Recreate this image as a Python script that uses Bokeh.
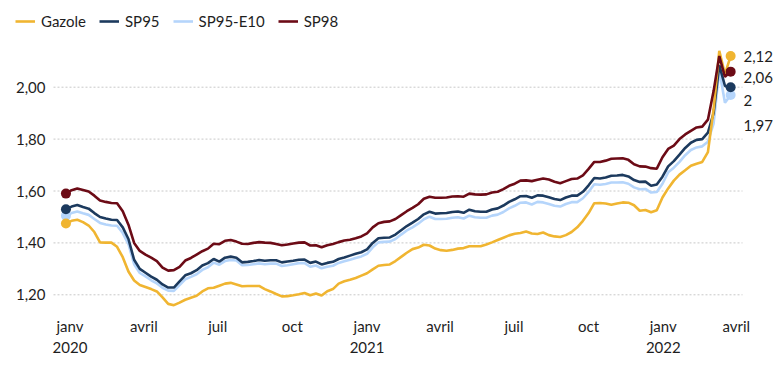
import pandas as pd
from datetime import datetime, timedelta
from bokeh.plotting import figure
from bokeh.models import (Range1d, FixedTicker, Legend, LegendItem, ColumnDataSource)
from bokeh.core.properties import value
from bokeh.embed import file_html
from bokeh.resources import INLINE

# ---------------- data (weekly averages, EUR/litre) ----------------
dates = pd.date_range("2019-12-27", periods=118, freq="7D")

gazole = [1.475, 1.485, 1.489, 1.480, 1.467, 1.442, 1.402, 1.401, 1.401, 1.385,
          1.345, 1.290, 1.255, 1.238, 1.230, 1.222, 1.213, 1.190, 1.165, 1.160,
          1.170, 1.181, 1.189, 1.196, 1.213, 1.225, 1.227, 1.235, 1.243, 1.246,
          1.240, 1.233, 1.234, 1.234, 1.234, 1.222, 1.213, 1.203, 1.194, 1.195,
          1.198, 1.202, 1.207, 1.198, 1.205, 1.197, 1.214, 1.222, 1.243, 1.252,
          1.258, 1.265, 1.274, 1.283, 1.298, 1.312, 1.315, 1.317, 1.330, 1.346,
          1.362, 1.376, 1.382, 1.393, 1.390, 1.378, 1.372, 1.370, 1.373, 1.378,
          1.380, 1.387, 1.387, 1.387, 1.394, 1.402, 1.411, 1.420, 1.429, 1.435,
          1.438, 1.444, 1.436, 1.434, 1.440, 1.430, 1.425, 1.423, 1.430, 1.442,
          1.460, 1.485, 1.515, 1.553, 1.554, 1.552, 1.547, 1.552, 1.556, 1.555,
          1.545, 1.524, 1.527, 1.518, 1.526, 1.575, 1.610, 1.640, 1.663, 1.680,
          1.697, 1.705, 1.712, 1.750, 1.915, 2.140, 2.050, 2.120]

sp95 = [1.530, 1.540, 1.546, 1.538, 1.532, 1.515, 1.500, 1.494, 1.489, 1.488,
        1.460, 1.415, 1.335, 1.300, 1.285, 1.270, 1.258, 1.240, 1.228, 1.228,
        1.252, 1.275, 1.283, 1.295, 1.313, 1.322, 1.338, 1.328, 1.343, 1.347,
        1.343, 1.325, 1.327, 1.330, 1.334, 1.331, 1.333, 1.333, 1.325, 1.328,
        1.331, 1.335, 1.336, 1.323, 1.328, 1.317, 1.323, 1.327, 1.338, 1.344,
        1.351, 1.358, 1.364, 1.375, 1.400, 1.418, 1.420, 1.421, 1.432, 1.449,
        1.465, 1.478, 1.492, 1.510, 1.520, 1.513, 1.514, 1.515, 1.519, 1.521,
        1.516, 1.528, 1.522, 1.520, 1.520, 1.529, 1.533, 1.544, 1.558, 1.568,
        1.580, 1.581, 1.574, 1.583, 1.582, 1.576, 1.569, 1.565, 1.575, 1.582,
        1.582, 1.597, 1.622, 1.650, 1.648, 1.652, 1.659, 1.660, 1.662, 1.656,
        1.642, 1.635, 1.636, 1.620, 1.625, 1.655, 1.695, 1.715, 1.740, 1.766,
        1.786, 1.797, 1.800, 1.825, 1.900, 2.085, 2.005, 2.000]

sp95_e10 = [1.505, 1.515, 1.521, 1.514, 1.508, 1.492, 1.477, 1.471, 1.467, 1.466,
            1.438, 1.395, 1.318, 1.284, 1.271, 1.256, 1.244, 1.227, 1.216, 1.215,
            1.237, 1.260, 1.269, 1.279, 1.296, 1.306, 1.324, 1.316, 1.330, 1.334,
            1.332, 1.314, 1.315, 1.318, 1.321, 1.318, 1.320, 1.320, 1.311, 1.314,
            1.318, 1.322, 1.322, 1.308, 1.313, 1.302, 1.308, 1.312, 1.323, 1.329,
            1.335, 1.342, 1.348, 1.358, 1.383, 1.402, 1.404, 1.405, 1.415, 1.432,
            1.448, 1.460, 1.474, 1.491, 1.501, 1.492, 1.492, 1.493, 1.497, 1.499,
            1.494, 1.505, 1.499, 1.497, 1.497, 1.505, 1.509, 1.519, 1.533, 1.543,
            1.555, 1.556, 1.548, 1.558, 1.556, 1.550, 1.543, 1.540, 1.550, 1.557,
            1.557, 1.572, 1.597, 1.626, 1.624, 1.627, 1.633, 1.633, 1.634, 1.628,
            1.614, 1.607, 1.608, 1.594, 1.596, 1.628, 1.672, 1.690, 1.712, 1.738,
            1.758, 1.768, 1.772, 1.790, 1.860, 2.065, 1.940, 1.970]

sp98 = [1.590, 1.603, 1.610, 1.604, 1.598, 1.582, 1.563, 1.558, 1.554, 1.553,
        1.522, 1.470, 1.400, 1.369, 1.355, 1.343, 1.330, 1.305, 1.293, 1.295,
        1.308, 1.332, 1.342, 1.355, 1.368, 1.378, 1.397, 1.395, 1.408, 1.411,
        1.405, 1.397, 1.396, 1.400, 1.403, 1.401, 1.400, 1.396, 1.391, 1.394,
        1.398, 1.401, 1.402, 1.390, 1.391, 1.383, 1.391, 1.396, 1.403, 1.409,
        1.412, 1.418, 1.425, 1.437, 1.460, 1.476, 1.481, 1.483, 1.492, 1.507,
        1.522, 1.535, 1.549, 1.570, 1.578, 1.574, 1.574, 1.575, 1.579, 1.580,
        1.578, 1.590, 1.587, 1.586, 1.587, 1.594, 1.597, 1.607, 1.620, 1.628,
        1.640, 1.641, 1.638, 1.643, 1.648, 1.644, 1.636, 1.630, 1.638, 1.646,
        1.648, 1.660, 1.685, 1.712, 1.712, 1.717, 1.724, 1.725, 1.726, 1.720,
        1.703, 1.695, 1.694, 1.688, 1.686, 1.730, 1.762, 1.775, 1.800, 1.818,
        1.832, 1.845, 1.848, 1.875, 1.985, 2.120, 2.040, 2.060]

series_names = ["Gazole", "SP95", "SP95-E10", "SP98"]
series_values = [gazole, sp95, sp95_e10, sp98]
colors = ["#f0b531", "#1c3a5e", "#b5d5fb", "#6c0b16"]

y_ticks = [1.20, 1.40, 1.60, 1.80, 2.00]
y_tick_labels = ["1,20", "1,40", "1,60", "1,80", "2,00"]

x_tick_dates = [datetime(2020, 1, 1), datetime(2020, 4, 1), datetime(2020, 7, 1), datetime(2020, 10, 1),
                datetime(2021, 1, 1), datetime(2021, 4, 1), datetime(2021, 7, 1), datetime(2021, 10, 1),
                datetime(2022, 1, 1), datetime(2022, 4, 1)]
x_tick_labels = ["janv\n2020", "avril", "juil", "oct", "janv\n2021", "avril", "juil", "oct",
                 "janv\n2022", "avril"]

FONT = "Lato"
TEXT = "#1e1e1e"

# ---------------- layout helpers (pixel positions -> data coordinates) ----------------
BASE = datetime(2020, 1, 1)
BASE_PX = 69.5
PX_PER_DAY = 0.8116

def ms(d):
    return pd.Timestamp(d).value / 1e6

def px_to_x(px):
    return ms(BASE + timedelta(days=(px - BASE_PX) / PX_PER_DAY))

W, H, BOTTOM = 782, 370, 63
Y_PX_PER_UNIT = 259.5
y_top = 2.00 + 86.7 / Y_PX_PER_UNIT
y_bot = y_top - (H - BOTTOM) / Y_PX_PER_UNIT

def py_to_y(py):
    return 2.00 - (py - 86.7) / Y_PX_PER_UNIT

p = figure(width=W, height=H, output_backend="svg", toolbar_location=None,
           x_axis_type="datetime",
           x_range=Range1d(px_to_x(0), px_to_x(W)),
           y_range=Range1d(y_bot, y_top),
           min_border_left=0, min_border_right=0, min_border_top=0, min_border_bottom=BOTTOM)
p.outline_line_color = None
p.background_fill_color = "white"
p.border_fill_color = "white"
p.yaxis.visible = False

# horizontal dotted grid
p.xgrid.grid_line_color = None
p.ygrid.grid_line_color = None
n = len(y_ticks)
p.segment(x0=[px_to_x(53)] * n, x1=[px_to_x(742)] * n, y0=y_ticks, y1=y_ticks,
          line_color="#c8c8c8", line_width=1, line_dash="2 2")

# y tick labels, positioned on the y scale
p.text(x=[px_to_x(45)] * n, y=y_ticks, text=y_tick_labels,
       text_font=value(FONT), text_font_size="15px", text_color=TEXT,
       text_baseline="middle", text_align="right")

# x axis
xa = p.xaxis[0]
xa.axis_line_color = None
xa.major_tick_line_color = None
xa.minor_tick_line_color = None
xa.major_label_text_font = FONT
xa.major_label_text_font_size = "15px"
xa.major_label_text_color = TEXT
xt = [ms(d) for d in x_tick_dates]
xa.ticker = FixedTicker(ticks=xt)
xa.major_label_overrides = {t: l for t, l in zip(xt, x_tick_labels)}
xa.major_label_standoff = 3

# lines (draw order: E10, SP95, Gazole, SP98)
renderers = {}
for idx in [2, 1, 0, 3]:
    src = ColumnDataSource(dict(x=dates, y=series_values[idx]))
    renderers[idx] = p.line("x", "y", source=src, line_color=colors[idx], line_width=2.6)

# start and end dots
for idx in [2, 1, 0, 3]:
    vals = series_values[idx]
    p.scatter([dates[0], dates[-1]], [vals[0], vals[-1]], size=10,
              fill_color=colors[idx], line_color=None)

# end value labels (stacked to avoid overlap)
order = sorted(range(4), key=lambda i: -series_values[i][-1])
label_py = [56, 76.7, 100, 125]
texts = []
for idx in order:
    v = series_values[idx][-1]
    texts.append(f"{v:.2f}".rstrip("0").rstrip(".").replace(".", ","))
p.text(x=[px_to_x(743)] * 4, y=[py_to_y(v) for v in label_py], text=texts,
       text_font=value(FONT), text_font_size="15px", text_color=TEXT,
       text_baseline="middle", text_align="left")

legend = Legend(items=[LegendItem(label=series_names[i], renderers=[renderers[i]]) for i in range(4)],
                orientation="horizontal", location=(15, 277),
                label_text_font=FONT, label_text_font_size="15px", label_text_color=TEXT,
                glyph_width=20, glyph_height=16, label_standoff=6, spacing=13,
                padding=0, margin=0, border_line_color=None, background_fill_alpha=0)
p.add_layout(legend, "center")

open("out.html", "w").write(file_html(p, INLINE))
